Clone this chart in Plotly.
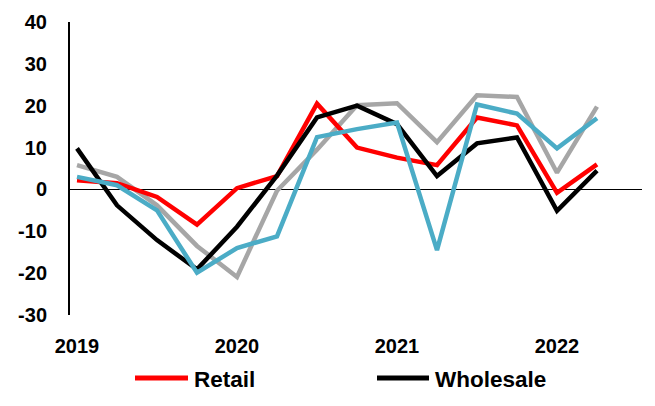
import plotly.graph_objects as go

quarters = ["2019Q1", "2019Q2", "2019Q3", "2019Q4", "2020Q1", "2020Q2", "2020Q3",
            "2020Q4", "2021Q1", "2021Q2", "2021Q3", "2021Q4", "2022Q1", "2022Q2"]
retail = [2.2, 1.5, -1.8, -8.4, 0.3, 3.2, 20.5, 10.0, 7.6, 5.8, 17.2, 15.3, -0.8, 6.0]
wholesale = [9.8, -3.8, -12.1, -19.1, -8.9, 3.3, 17.2, 20.0, 15.6, 3.2, 11.0, 12.4, -5.1, 4.5]
gray_series = [5.8, 3.0, -3.8, -13.5, -20.9, -0.3, 9.5, 20.1, 20.6, 11.3, 22.5, 22.1, 4.0, 19.8]
blue_series = [3.0, 1.0, -5.0, -19.9, -14.0, -11.2, 12.5, 14.4, 16.0, -14.5, 20.3, 18.1, 9.8, 17.0]
tick_idx = [0, 4, 8, 12]
tick_text = ["2019", "2020", "2021", "2022"]
y_ticks = [-30, -20, -10, 0, 10, 20, 30, 40]
legend_names = ["Retail", "Wholesale"]
legend_colors = ["#FF0000", "#000000"]

FONT = "Liberation Sans, Arial, sans-serif"
x = list(range(len(quarters)))

fig = go.Figure()
fig.add_trace(go.Scatter(x=x, y=gray_series, mode="lines", name="Series 3",
                         line=dict(color="#A6A6A6", width=4.5), hovertext=quarters))
fig.add_trace(go.Scatter(x=x, y=retail, mode="lines", name="Retail",
                         line=dict(color="#FF0000", width=4.5), hovertext=quarters))
fig.add_trace(go.Scatter(x=x, y=wholesale, mode="lines", name="Wholesale",
                         line=dict(color="#000000", width=4.5), hovertext=quarters))
fig.add_trace(go.Scatter(x=x, y=blue_series, mode="lines", name="Series 4",
                         line=dict(color="#4BACC6", width=4.5), hovertext=quarters))

# plot area in pixels: x 70..642, y 22..315
def px_x(p):
    return (p - 70) / 572.0

def px_y(p):
    return (315 - p) / 293.0

legend_line_px = [(135, 188), (377, 429)]
legend_text_px = [192, 433]
leg_y = 378
for (x0, x1), tx, name, col in zip(legend_line_px, legend_text_px, legend_names, legend_colors):
    fig.add_shape(type="line", xref="paper", yref="paper",
                  x0=px_x(x0), x1=px_x(x1), y0=px_y(leg_y), y1=px_y(leg_y),
                  line=dict(color=col, width=5))
    fig.add_annotation(xref="paper", yref="paper", x=px_x(tx), y=px_y(leg_y + 1),
                       xanchor="left", yanchor="middle", showarrow=False,
                       text="<b>%s</b>" % name,
                       font=dict(family=FONT, size=22.5, color="black"))

fig.update_layout(
    width=655, height=406,
    margin=dict(l=70, r=13, t=22, b=91),
    paper_bgcolor="white", plot_bgcolor="white",
    font=dict(family=FONT, size=20, color="black"),
    showlegend=False,
    xaxis=dict(range=[-0.175, 14.125], tickmode="array", tickvals=tick_idx,
               ticktext=["<b>%s</b>" % t for t in tick_text], showgrid=False,
               zeroline=False, showline=False, ticks="", ticklabelstandoff=17,
               tickfont=dict(size=20)),
    yaxis=dict(range=[-30, 40], tickvals=y_ticks,
               ticktext=["<b>%d</b>" % v for v in y_ticks],
               showgrid=False, zeroline=True, zerolinecolor="black", zerolinewidth=1,
               showline=True, linecolor="black", linewidth=2, ticks="",
               ticklabelstandoff=17, tickfont=dict(size=20)),
)

fig.write_html("out.html")
